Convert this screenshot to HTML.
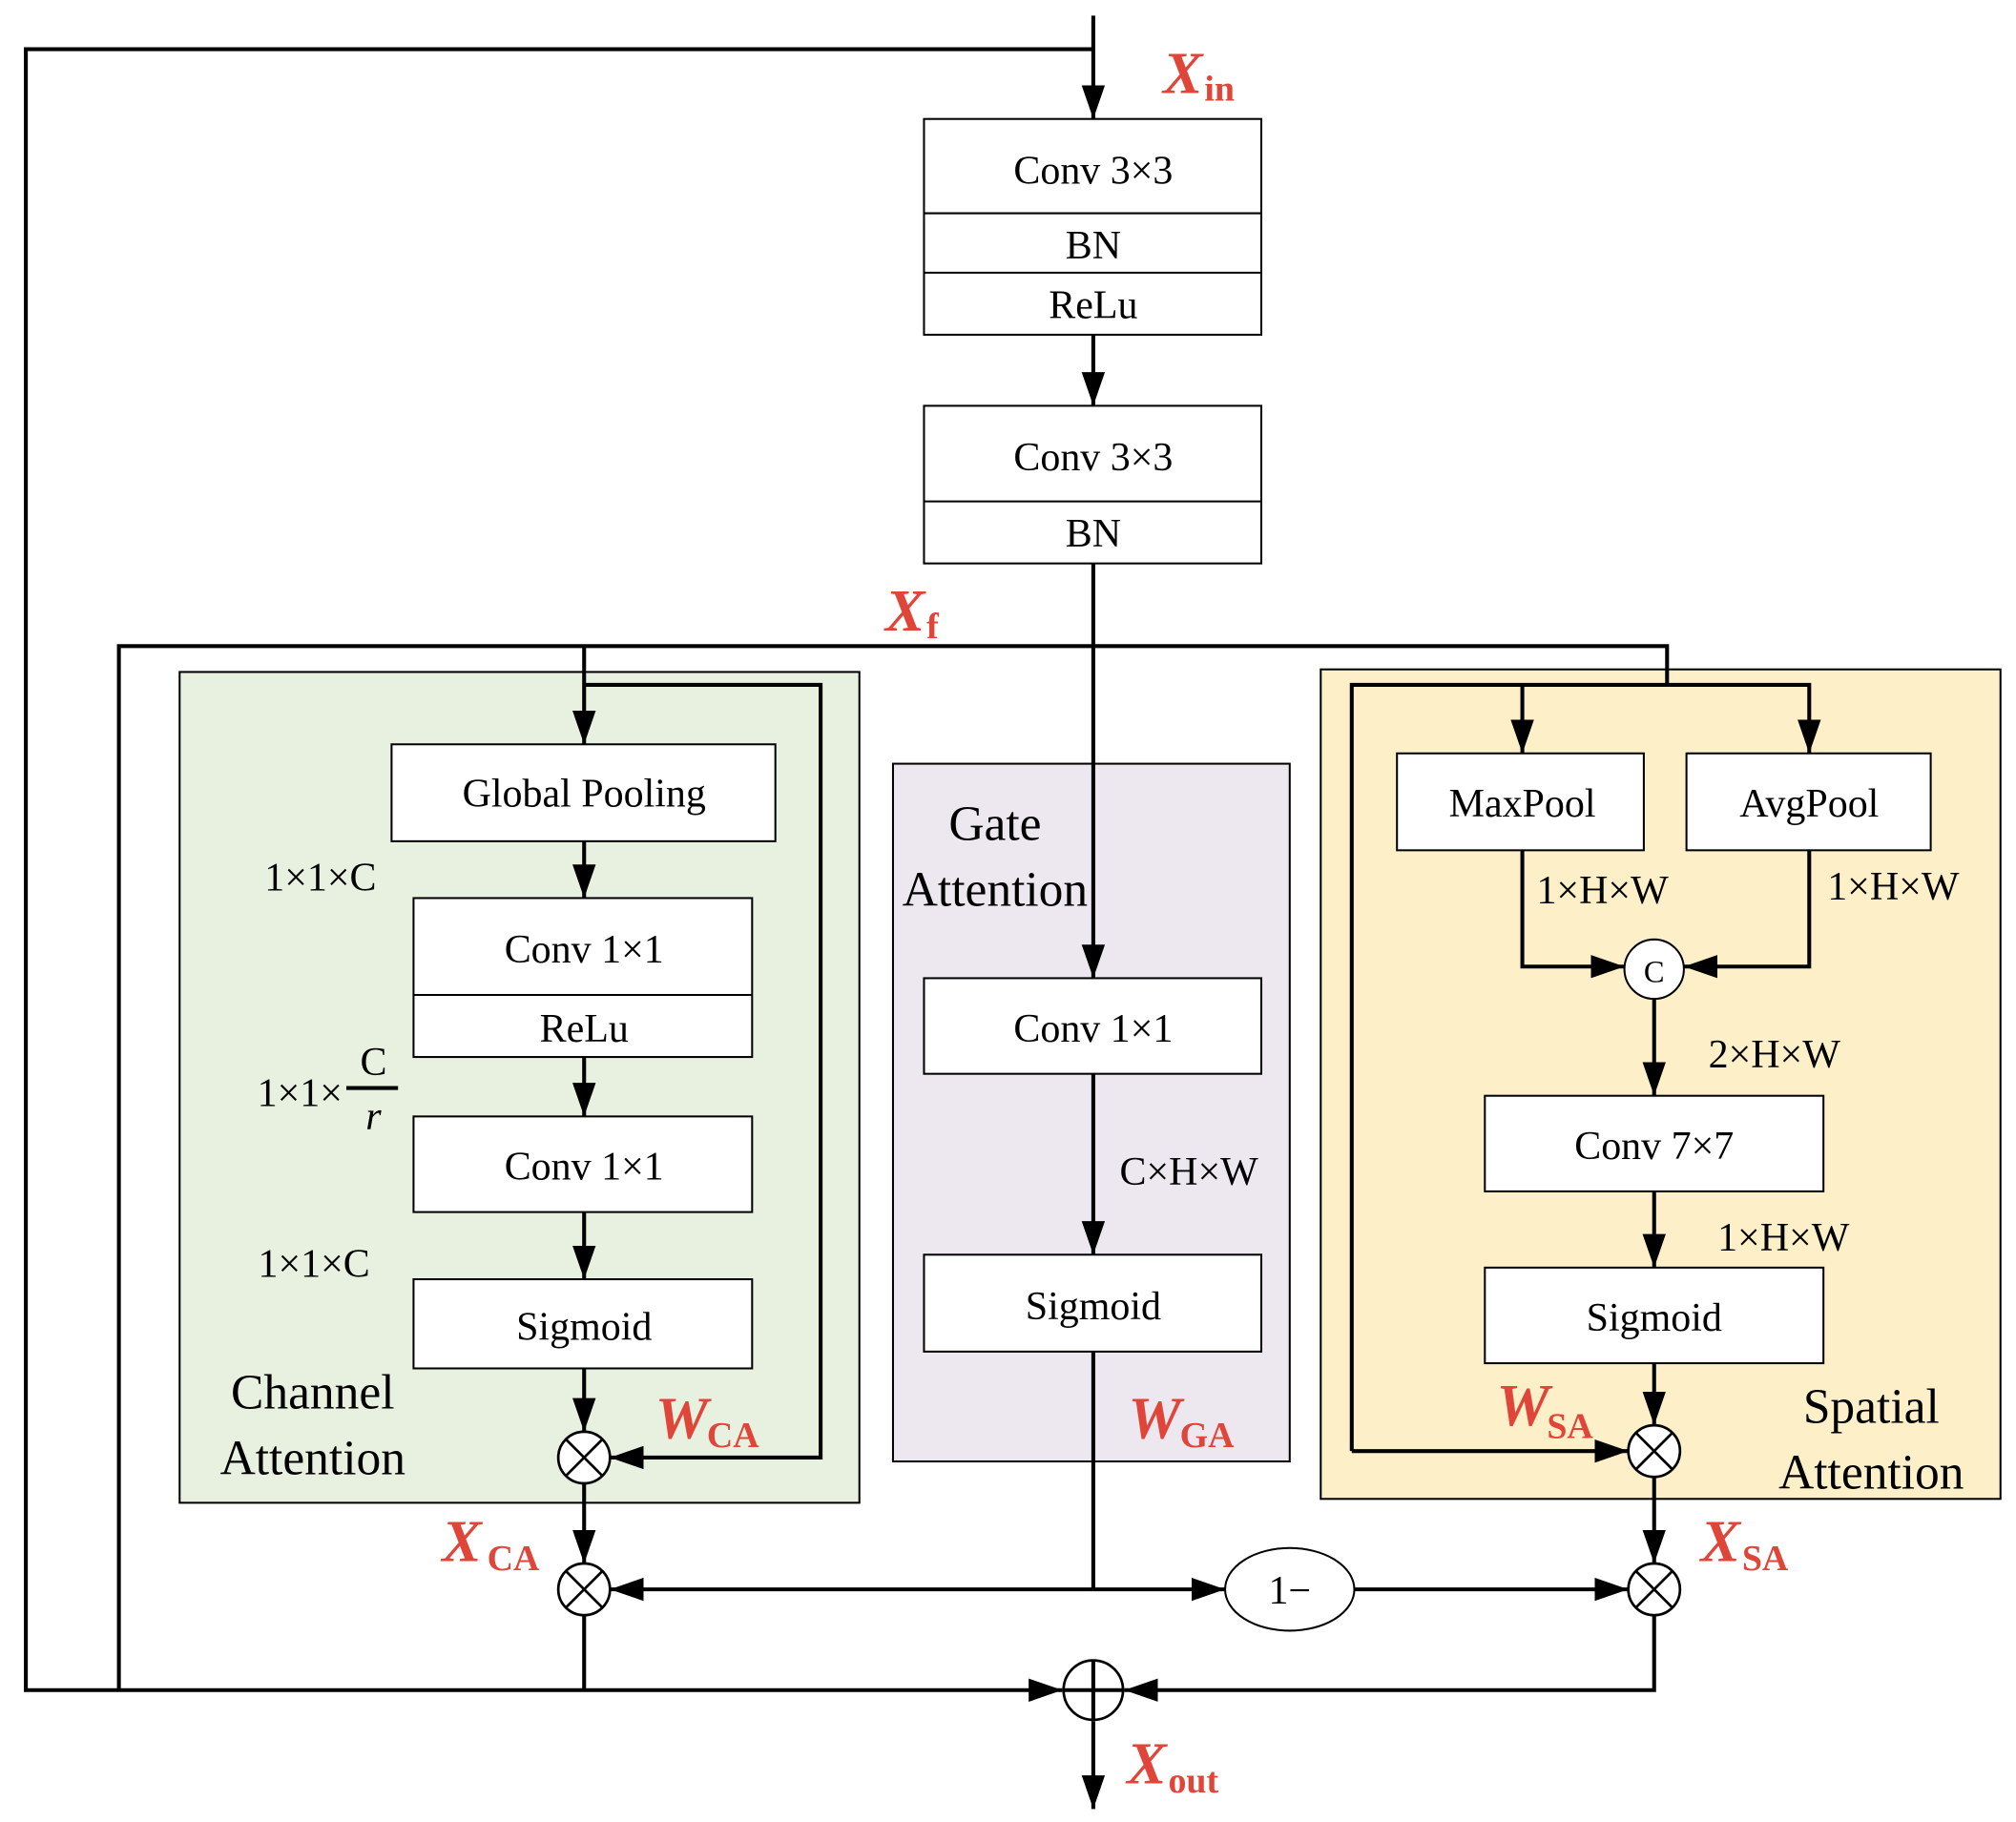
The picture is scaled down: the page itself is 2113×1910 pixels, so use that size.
<!DOCTYPE html>
<html><head><meta charset="utf-8"><style>html,body{margin:0;padding:0;background:#fff}svg{display:block}</style></head>
<body>
<svg width="2113" height="1910" viewBox="0 0 1560 1410" xmlns="http://www.w3.org/2000/svg" font-family="Liberation Serif, serif">
<defs>
<marker id="a" markerUnits="userSpaceOnUse" markerWidth="28" markerHeight="18" refX="26" refY="9" orient="auto"><path d="M0,0 L26,9 L0,18 Z" fill="#000"/></marker>
</defs>
<rect x="139" y="520" width="526" height="643" fill="#e8f0df" stroke="#000" stroke-width="1.5"/>
<rect x="691" y="591" width="307" height="540" fill="#ede8f0" stroke="#000" stroke-width="1.5"/>
<rect x="1022" y="518" width="526" height="642" fill="#fdf0c8" stroke="#000" stroke-width="1.5"/>
<g stroke="#000" stroke-width="3" fill="none">
<line x1="846" y1="12" x2="846" y2="92" marker-end="url(#a)"/>
<polyline points="846,38 20,38 20,1308 822,1308" marker-end="url(#a)"/>
<line x1="846" y1="259" x2="846" y2="314" marker-end="url(#a)"/>
<line x1="846" y1="436" x2="846" y2="757" marker-end="url(#a)"/>
<polyline points="92,1308 92,500 1290,500 1290,530"/>
<line x1="452" y1="500" x2="452" y2="576" marker-end="url(#a)"/>
<polyline points="452,530 635,530 635,1128 472,1128" marker-end="url(#a)"/>
<line x1="452" y1="651" x2="452" y2="695" marker-end="url(#a)"/>
<line x1="452" y1="818" x2="452" y2="864" marker-end="url(#a)"/>
<line x1="452" y1="938" x2="452" y2="990" marker-end="url(#a)"/>
<line x1="452" y1="1059" x2="452" y2="1108" marker-end="url(#a)"/>
<line x1="452" y1="1148" x2="452" y2="1210" marker-end="url(#a)"/>
<line x1="846" y1="831" x2="846" y2="971" marker-end="url(#a)"/>
<line x1="846" y1="1046" x2="846" y2="1230"/>
<line x1="846" y1="1230" x2="472" y2="1230" marker-end="url(#a)"/>
<line x1="846" y1="1230" x2="948" y2="1230" marker-end="url(#a)"/>
<line x1="1048" y1="1230" x2="1260" y2="1230" marker-end="url(#a)"/>
<polyline points="452,1250 452,1308"/>
<polyline points="1280,1250 1280,1308 870,1308" marker-end="url(#a)"/>
<line x1="846" y1="1332" x2="846" y2="1400" marker-end="url(#a)"/>
<polyline points="1046,1123 1046,530 1400,530 1400,583" marker-end="url(#a)"/>
<line x1="1046" y1="1123" x2="1260" y2="1123" marker-end="url(#a)"/>
<line x1="1178" y1="530" x2="1178" y2="583" marker-end="url(#a)"/>
<polyline points="1178,658 1178,748 1257,748" marker-end="url(#a)"/>
<polyline points="1400,658 1400,748 1303,748" marker-end="url(#a)"/>
<line x1="1280" y1="773" x2="1280" y2="848" marker-end="url(#a)"/>
<line x1="1280" y1="922" x2="1280" y2="981" marker-end="url(#a)"/>
<line x1="1280" y1="1055" x2="1280" y2="1103" marker-end="url(#a)"/>
<line x1="1280" y1="1143" x2="1280" y2="1210" marker-end="url(#a)"/>
</g>
<g stroke="#000" stroke-width="1.5" fill="#fff">
<rect x="715" y="92" width="261" height="167"/><line x1="715" y1="165" x2="976" y2="165"/><line x1="715" y1="211" x2="976" y2="211"/>
<rect x="715" y="314" width="261" height="122"/><line x1="715" y1="388" x2="976" y2="388"/>
<rect x="303" y="576" width="297" height="75"/>
<rect x="320" y="695" width="262" height="123"/><line x1="320" y1="770" x2="582" y2="770"/>
<rect x="320" y="864" width="262" height="74"/>
<rect x="320" y="990" width="262" height="69"/>
<rect x="715" y="757" width="261" height="74"/>
<rect x="715" y="971" width="261" height="75"/>
<rect x="1081" y="583" width="191" height="75"/>
<rect x="1305" y="583" width="189" height="75"/>
<rect x="1149" y="848" width="262" height="74"/>
<rect x="1149" y="981" width="262" height="74"/>
<ellipse cx="998" cy="1230" rx="50" ry="32"/>
<circle cx="1280" cy="750" r="23"/>
</g>
<g stroke="#000" stroke-width="2" fill="#fff">
<circle cx="452" cy="1128" r="20"/><path d="M438,1114 L466,1142 M466,1114 L438,1142"/>
<circle cx="452" cy="1230" r="20"/><path d="M438,1216 L466,1244 M466,1216 L438,1244"/>
<circle cx="1280" cy="1123" r="20"/><path d="M1266,1109 L1294,1137 M1294,1109 L1266,1137"/>
<circle cx="1280" cy="1230" r="20"/><path d="M1266,1216 L1294,1244 M1294,1216 L1266,1244"/>
<circle cx="846" cy="1308" r="23"/><path d="M823,1308 L869,1308 M846,1285 L846,1331" stroke-width="3"/>
</g>
<g font-size="31" text-anchor="middle" fill="#000">
<text x="846" y="142">Conv 3×3</text>
<text x="846" y="200">BN</text>
<text x="846" y="246">ReLu</text>
<text x="846" y="364">Conv 3×3</text>
<text x="846" y="423">BN</text>
<text x="452" y="624">Global Pooling</text>
<text x="452" y="745">Conv 1×1</text>
<text x="452" y="806">ReLu</text>
<text x="452" y="913">Conv 1×1</text>
<text x="452" y="1037">Sigmoid</text>
<text x="846" y="806">Conv 1×1</text>
<text x="846" y="1021">Sigmoid</text>
<text x="1178" y="632">MaxPool</text>
<text x="1400" y="632">AvgPool</text>
<text x="1280" y="897">Conv 7×7</text>
<text x="1280" y="1030">Sigmoid</text>
<text x="998" y="1241">1−</text>
<text x="1280" y="760" font-size="24">C</text>
<text x="248" y="689">1×1×C</text>
<text x="232" y="856">1×1×</text>
<text x="289" y="832">C</text>
<text x="289" y="874" font-style="italic">r</text>
<text x="243" y="988">1×1×C</text>
<text x="920" y="917">C×H×W</text>
<text x="1240" y="699">1×H×W</text>
<text x="1465" y="696">1×H×W</text>
<text x="1373" y="826">2×H×W</text>
<text x="1380" y="968">1×H×W</text>
</g>
<line x1="268" y1="842" x2="308" y2="842" stroke="#000" stroke-width="3"/>
<g font-size="38" text-anchor="middle" fill="#000">
<text x="242" y="1090">Channel</text>
<text x="242" y="1141">Attention</text>
<text x="770" y="650">Gate</text>
<text x="770" y="701">Attention</text>
<text x="1448" y="1101">Spatial</text>
<text x="1448" y="1152">Attention</text>
</g>
<g fill="#e0453a" font-weight="bold">
<text x="900" y="72" font-size="46" font-style="italic">X</text><text x="932" y="78" font-size="28">in</text>
<text x="685" y="488" font-size="46" font-style="italic">X</text><text x="717" y="494" font-size="28">f</text>
<text x="507" y="1113" font-size="46" font-style="italic">W</text><text x="547" y="1120" font-size="28">CA</text>
<text x="873" y="1113" font-size="46" font-style="italic">W</text><text x="913" y="1120" font-size="28">GA</text>
<text x="1158" y="1103" font-size="46" font-style="italic">W</text><text x="1197" y="1113" font-size="28">SA</text>
<text x="342" y="1208" font-size="46" font-style="italic">X</text><text x="377" y="1215" font-size="28">CA</text>
<text x="1316" y="1208" font-size="46" font-style="italic">X</text><text x="1348" y="1215" font-size="28">SA</text>
<text x="872" y="1380" font-size="46" font-style="italic">X</text><text x="904" y="1387" font-size="28">out</text>
</g>
</svg>
</body></html>
